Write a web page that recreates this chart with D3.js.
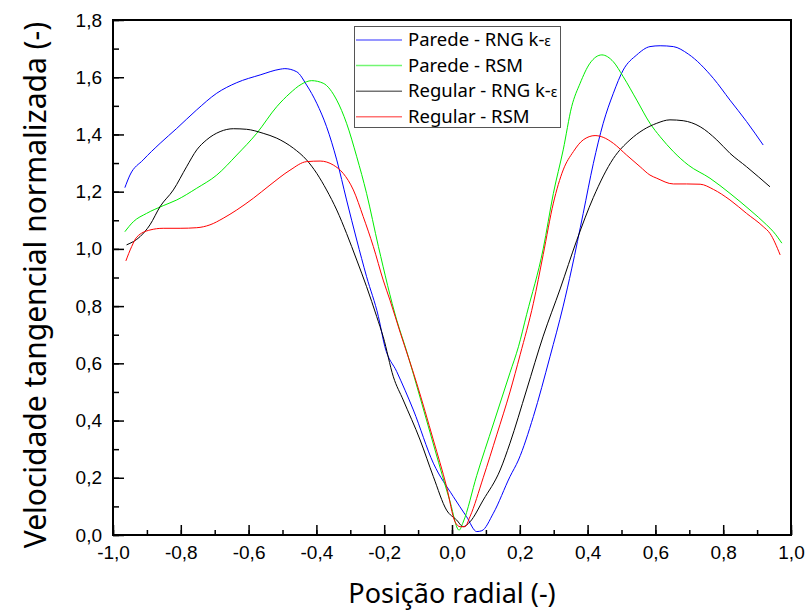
<!DOCTYPE html>
<html>
<head>
<meta charset="utf-8">
<script src="https://cdn.jsdelivr.net/npm/d3@7"></script>
<style>
  body { margin: 0; background: #fff; }
  .tick text { font-family: "Liberation Sans", Arial, sans-serif; font-size: 19px; fill: #000; }
  .title { font-family: "Noto Sans", "Open Sans", sans-serif; fill: #000; }
  .legend text { font-family: "Noto Sans", "Open Sans", sans-serif; font-size: 18.5px; fill: #000; }
</style>
</head>
<body>
<div id="chart"></div>
<script>
// series: Parede - RNG k-e
var paredeRngX = [-0.965, -0.95, -0.911, -0.861, -0.812, -0.753, -0.694, -0.635, -0.566, -0.507, -0.493, -0.458, -0.429, -0.399, -0.370, -0.340, -0.311, -0.281, -0.252, -0.217, -0.198, -0.163, -0.114, -0.055, 0.004, 0.043, 0.073, 0.088, 0.122, 0.171, 0.196, 0.240, 0.289, 0.328, 0.353, 0.387, 0.417, 0.446, 0.476, 0.505, 0.545, 0.584, 0.614, 0.653, 0.697, 0.771, 0.820, 0.869, 0.918];
var paredeRngY = [1.214, 1.258, 1.311, 1.369, 1.421, 1.486, 1.544, 1.581, 1.608, 1.628, 1.630, 1.619, 1.573, 1.509, 1.427, 1.311, 1.171, 1.031, 0.903, 0.763, 0.658, 0.571, 0.437, 0.251, 0.134, 0.064, 0.012, 0.015, 0.076, 0.204, 0.262, 0.414, 0.623, 0.800, 0.930, 1.124, 1.299, 1.439, 1.544, 1.625, 1.678, 1.707, 1.710, 1.707, 1.681, 1.596, 1.520, 1.445, 1.363];

// series: Parede - RSM
var paredeRsmX = [-0.965, -0.94, -0.901, -0.852, -0.812, -0.753, -0.694, -0.635, -0.576, -0.517, -0.478, -0.445, -0.414, -0.380, -0.340, -0.311, -0.281, -0.252, -0.217, -0.163, -0.135, -0.092, -0.050, -0.007, 0.021, 0.033, 0.073, 0.122, 0.171, 0.196, 0.220, 0.269, 0.299, 0.328, 0.353, 0.378, 0.407, 0.442, 0.476, 0.505, 0.545, 0.584, 0.614, 0.653, 0.697, 0.761, 0.820, 0.879, 0.928, 0.948, 0.973];
var paredeRsmY = [1.060, 1.095, 1.124, 1.151, 1.171, 1.212, 1.258, 1.328, 1.404, 1.497, 1.544, 1.575, 1.588, 1.579, 1.520, 1.439, 1.322, 1.194, 1.008, 0.751, 0.647, 0.472, 0.297, 0.122, 0.017, 0.045, 0.208, 0.388, 0.567, 0.658, 0.770, 1.000, 1.194, 1.346, 1.497, 1.579, 1.649, 1.678, 1.654, 1.602, 1.520, 1.439, 1.392, 1.340, 1.293, 1.247, 1.194, 1.136, 1.084, 1.060, 1.020];

// series: Regular - RNG k-e
var regularRngX = [-0.960, -0.920, -0.891, -0.861, -0.822, -0.783, -0.753, -0.724, -0.684, -0.645, -0.606, -0.557, -0.517, -0.468, -0.429, -0.399, -0.370, -0.340, -0.311, -0.281, -0.252, -0.222, -0.203, -0.173, -0.144, -0.094, -0.055, -0.016, 0.014, 0.033, 0.053, 0.092, 0.142, 0.171, 0.220, 0.269, 0.319, 0.368, 0.417, 0.476, 0.525, 0.564, 0.604, 0.643, 0.682, 0.732, 0.781, 0.820, 0.869, 0.938];
var regularRngY = [1.014, 1.043, 1.084, 1.148, 1.206, 1.287, 1.346, 1.381, 1.410, 1.420, 1.418, 1.404, 1.387, 1.352, 1.311, 1.264, 1.206, 1.136, 1.054, 0.961, 0.868, 0.763, 0.693, 0.553, 0.472, 0.332, 0.204, 0.087, 0.052, 0.029, 0.046, 0.122, 0.227, 0.321, 0.507, 0.695, 0.860, 1.030, 1.180, 1.316, 1.381, 1.416, 1.439, 1.451, 1.448, 1.427, 1.381, 1.334, 1.287, 1.217];

// series: Regular - RSM
var regularRsmX = [-0.962, -0.945, -0.930, -0.891, -0.852, -0.802, -0.753, -0.714, -0.675, -0.635, -0.586, -0.537, -0.478, -0.429, -0.389, -0.350, -0.321, -0.291, -0.262, -0.232, -0.203, -0.183, -0.152, -0.104, -0.055, -0.016, 0.009, 0.024, 0.038, 0.053, 0.092, 0.132, 0.171, 0.201, 0.240, 0.269, 0.299, 0.328, 0.358, 0.387, 0.422, 0.446, 0.476, 0.515, 0.555, 0.584, 0.604, 0.653, 0.692, 0.732, 0.771, 0.820, 0.869, 0.918, 0.938, 0.968];
var regularRsmY = [0.958, 1.008, 1.041, 1.066, 1.072, 1.072, 1.074, 1.084, 1.107, 1.136, 1.177, 1.223, 1.275, 1.305, 1.307, 1.293, 1.264, 1.206, 1.113, 1.008, 0.891, 0.821, 0.705, 0.530, 0.332, 0.169, 0.046, 0.029, 0.029, 0.064, 0.200, 0.350, 0.500, 0.630, 0.810, 0.980, 1.160, 1.276, 1.340, 1.381, 1.396, 1.390, 1.369, 1.328, 1.287, 1.258, 1.247, 1.227, 1.227, 1.226, 1.208, 1.171, 1.124, 1.078, 1.054, 0.979];

var seriesNames = ["Parede - RNG k-", "Parede - RSM", "Regular - RNG k-", "Regular - RSM"];
var seriesColors = ["#0000ff", "#00ee00", "#000000", "#ff0000"];

var xMajor = [-1.0, -0.8, -0.6, -0.4, -0.2, 0.0, 0.2, 0.4, 0.6, 0.8, 1.0];
var yMajor = [0.0, 0.2, 0.4, 0.6, 0.8, 1.0, 1.2, 1.4, 1.6, 1.8];

var xTitle = "Posição radial (-)";
var yTitle = "Velocidade tangencial normalizada (-)";

function drawChart() {
    var width = 808, height = 613;
    var plotLeft = 113, plotRight = 791, plotTop = 20, plotBottom = 535;

    var svg = d3.select("#chart").append("svg")
        .attr("width", width)
        .attr("height", height);

    var x = d3.scaleLinear().domain([-1, 1]).range([plotLeft, plotRight]);
    var y = d3.scaleLinear().domain([0, 1.8]).range([plotBottom, plotTop]);

    var loc = d3.formatLocale({decimal: ",", thousands: ".", grouping: [3], currency: ["", ""], minus: "-"});
    var fmt = loc.format(".1f");

    // minor ticks
    svg.append("g")
        .attr("transform", "translate(0," + plotBottom + ")")
        .call(d3.axisBottom(x).ticks(20).tickSize(-5).tickFormat(""))
        .call(g => g.select(".domain").remove())
        .selectAll("line").attr("stroke-width", 1.5);
    svg.append("g")
        .attr("transform", "translate(" + plotLeft + ",0)")
        .call(d3.axisLeft(y).ticks(18).tickSize(-6).tickFormat(""))
        .call(g => g.select(".domain").remove())
        .selectAll("line").attr("stroke-width", 1.5);

    // major ticks + labels
    svg.append("g")
        .attr("transform", "translate(0," + plotBottom + ")")
        .call(d3.axisBottom(x).tickValues(xMajor).tickSize(-10).tickPadding(11).tickFormat(fmt))
        .call(g => g.select(".domain").remove())
        .selectAll("line").attr("stroke-width", 1.5);
    svg.append("g")
        .attr("transform", "translate(" + plotLeft + ",0)")
        .call(d3.axisLeft(y).tickValues(yMajor).tickSize(-11).tickPadding(11).tickFormat(fmt))
        .call(g => g.select(".domain").remove())
        .selectAll("line").attr("stroke-width", 1.5);

    // curves
    var seriesX = [paredeRngX, paredeRsmX, regularRngX, regularRsmX];
    var seriesY = [paredeRngY, paredeRsmY, regularRngY, regularRsmY];

    var line = d3.line()
        .x(d => x(d[0]))
        .y(d => y(d[1]))
        .curve(d3.curveMonotoneX);

    seriesX.forEach(function (xs, i) {
        var pts = xs.map((v, j) => [v, seriesY[i][j]]);
        svg.append("path")
            .datum(pts)
            .attr("d", line)
            .attr("fill", "none")
            .attr("stroke", seriesColors[i])
            .attr("stroke-width", 1);
    });

    // frame
    svg.append("rect")
        .attr("x", plotLeft).attr("y", plotTop)
        .attr("width", plotRight - plotLeft).attr("height", plotBottom - plotTop)
        .attr("fill", "none")
        .attr("stroke", "#000")
        .attr("stroke-width", 2);

    // legend
    var legend = svg.append("g").attr("class", "legend");
    legend.append("rect")
        .attr("x", 354.5).attr("y", 26.5)
        .attr("width", 206).attr("height", 101)
        .attr("fill", "#fff")
        .attr("stroke", "#555")
        .attr("stroke-width", 1);

    seriesNames.forEach(function (name, i) {
        var ly = 40 + i * 25.6;
        legend.append("line")
            .attr("x1", 356).attr("x2", 402)
            .attr("y1", ly).attr("y2", ly)
            .attr("stroke", seriesColors[i])
            .attr("stroke-width", 1.5)
            .attr("stroke-opacity", 0.55);
        var t = legend.append("text")
            .attr("x", 408).attr("y", ly + 6)
            .text(name);
        if (name.indexOf("RNG") >= 0) {
            t.append("tspan").style("font-size", "14px").text("ε");
        }
    });

    // axis titles
    svg.append("text")
        .attr("class", "title")
        .attr("x", (plotLeft + plotRight) / 2)
        .attr("y", 603)
        .attr("text-anchor", "middle")
        .style("font-size", "27px")
        .text(xTitle);

    svg.append("text")
        .attr("class", "title")
        .attr("transform", "translate(46,285) rotate(-90)")
        .attr("text-anchor", "middle")
        .style("font-size", "30px")
        .text(yTitle);
}

drawChart();
</script>
</body>
</html>
